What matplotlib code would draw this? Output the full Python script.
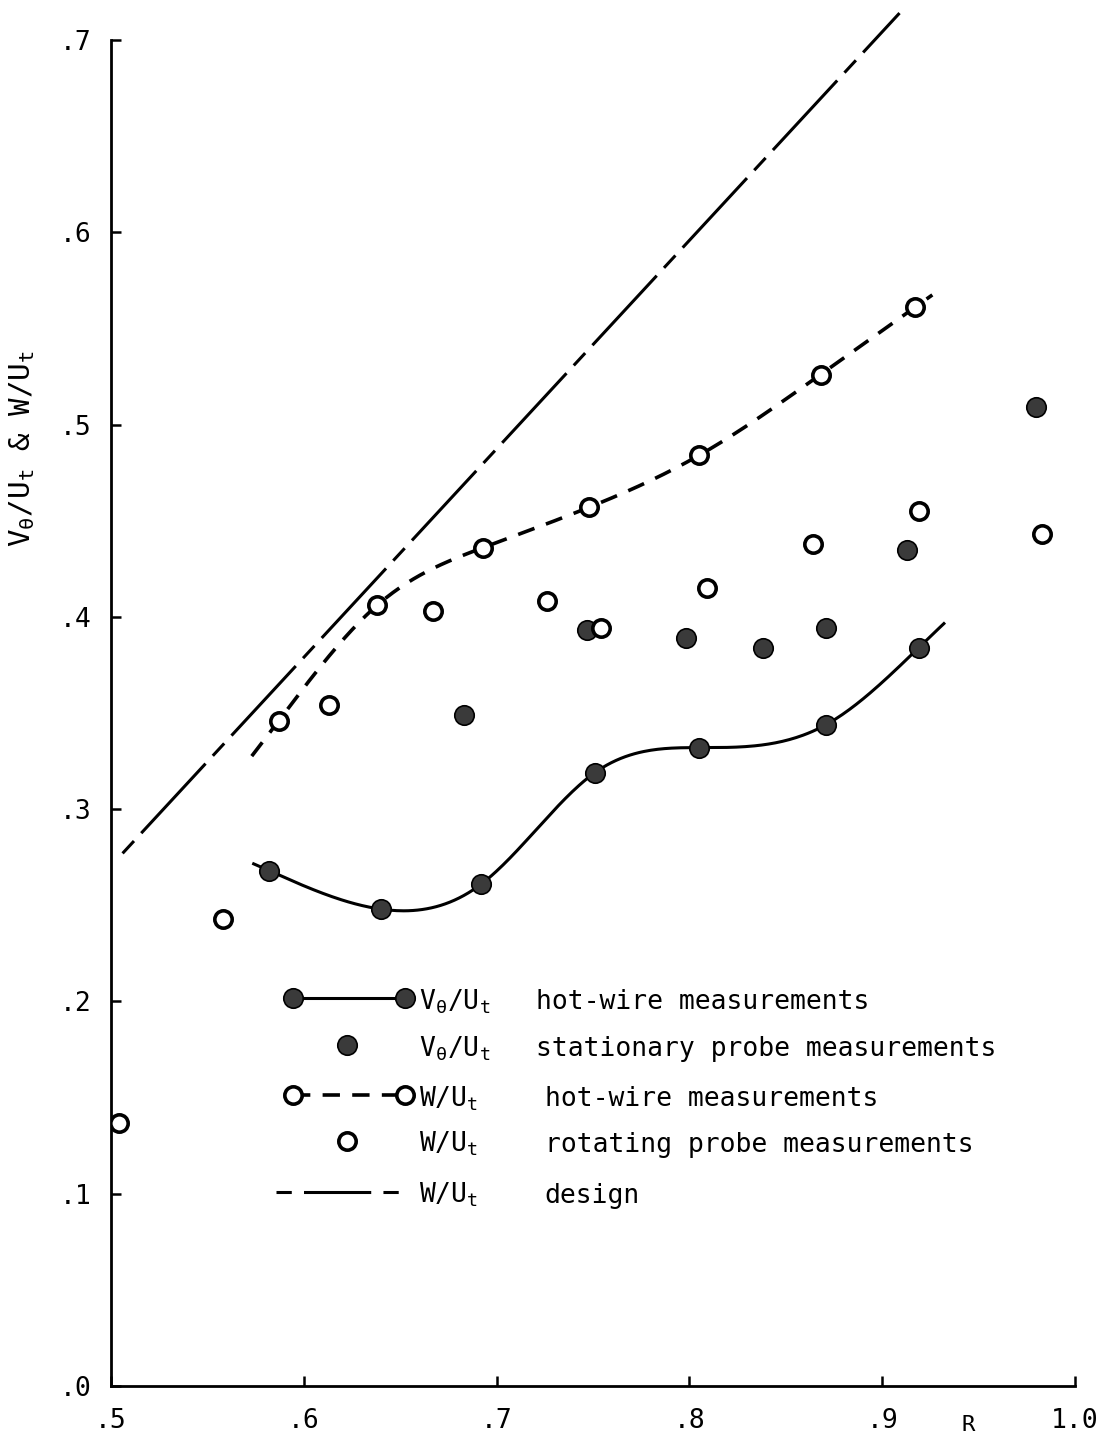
import numpy as np
import matplotlib
matplotlib.use("Agg")
import matplotlib.pyplot as plt

# ---- data -------------------------------------------------------------
# V_theta/U_t, hot-wire measurements (faired solid curve)
r_vt_hw = [0.582, 0.640, 0.692, 0.751, 0.805, 0.871, 0.919]
vt_hw = [0.268, 0.248, 0.261, 0.319, 0.332, 0.344, 0.384]
r_vt_hw_span = [0.574, 0.932]

# V_theta/U_t, stationary probe measurements
r_vt_sp = [0.683, 0.747, 0.798, 0.838, 0.871, 0.913, 0.980]
vt_sp = [0.349, 0.393, 0.389, 0.384, 0.394, 0.435, 0.509]

# W/U_t, hot-wire measurements (faired dashed curve)
r_w_hw = [0.587, 0.638, 0.693, 0.748, 0.805, 0.868, 0.917]
w_hw = [0.346, 0.406, 0.436, 0.457, 0.484, 0.526, 0.561]
r_w_hw_span = [0.573, 0.926]

# W/U_t, rotating probe measurements
r_w_rp = [0.504, 0.558, 0.613, 0.667, 0.726, 0.754, 0.809, 0.864, 0.919, 0.983]
w_rp = [0.137, 0.243, 0.354, 0.403, 0.408, 0.394, 0.415, 0.438, 0.455, 0.443]

# W/U_t, design
r_design = [0.506, 0.909]
w_design = [0.277, 0.714]

x_ticks = [0.5, 0.6, 0.7, 0.8, 0.9, 1.0]
x_ticklabels = [".5", ".6", ".7", ".8", ".9", "1.0"]
y_ticks = [0.0, 0.1, 0.2, 0.3, 0.4, 0.5, 0.6, 0.7]
y_ticklabels = [".0", ".1", ".2", ".3", ".4", ".5", ".6", ".7"]


def natural_spline(x, y, xs):
    """Natural cubic spline through (x, y), evaluated at xs (ends extrapolated)."""
    x = np.asarray(x, float)
    y = np.asarray(y, float)
    xs = np.asarray(xs, float)
    n = len(x)
    h = np.diff(x)
    A = np.zeros((n, n))
    b = np.zeros(n)
    A[0, 0] = A[-1, -1] = 1.0
    for i in range(1, n - 1):
        A[i, i - 1] = h[i - 1]
        A[i, i] = 2 * (h[i - 1] + h[i])
        A[i, i + 1] = h[i]
        b[i] = 6 * ((y[i + 1] - y[i]) / h[i] - (y[i] - y[i - 1]) / h[i - 1])
    M = np.linalg.solve(A, b)
    idx = np.clip(np.searchsorted(x, xs) - 1, 0, n - 2)
    x0, x1 = x[idx], x[idx + 1]
    y0, y1 = y[idx], y[idx + 1]
    m0, m1 = M[idx], M[idx + 1]
    hh = x1 - x0
    t0 = x1 - xs
    t1 = xs - x0
    return (m0 * t0 ** 3 / (6 * hh) + m1 * t1 ** 3 / (6 * hh)
            + (y0 / hh - m0 * hh / 6) * t0 + (y1 / hh - m1 * hh / 6) * t1)


# ---- styling ------------------------------------------------------------
MONO = ["DejaVu Sans Mono"]
plt.rcParams["font.family"] = MONO
plt.rcParams["mathtext.fontset"] = "custom"
plt.rcParams["mathtext.rm"] = "DejaVu Sans Mono"
plt.rcParams["mathtext.it"] = "DejaVu Sans Mono"
plt.rcParams["mathtext.bf"] = "DejaVu Sans Mono"

FILL = "#3a3a3a"

fig = plt.figure(figsize=(11.11, 14.41), dpi=100)
ax = fig.add_axes([111 / 1111, 1 - 1386 / 1441, 964 / 1111, 1346 / 1441])
ax.set_xlim(0.5, 1.0)
ax.set_ylim(0.0, 0.7)

for side in ("top", "right"):
    ax.spines[side].set_visible(False)
for side in ("left", "bottom"):
    ax.spines[side].set_linewidth(2.0)

ax.set_xticks(x_ticks)
ax.set_xticklabels(x_ticklabels)
ax.set_yticks(y_ticks)
ax.set_yticklabels(y_ticklabels)
ax.tick_params(axis="both", direction="in", length=7, width=1.8,
               labelsize=19)
ax.tick_params(axis="x", pad=16)
ax.tick_params(axis="y", pad=14)

# design line
ax.plot(r_design, w_design, color="black", lw=2.2, clip_on=False,
        dashes=(5.5, 3.5, 31, 3.5), solid_capstyle="butt")

# W/U_t hot-wire faired curve + points
xs = np.linspace(r_w_hw_span[0], r_w_hw_span[1], 300)
ax.plot(xs, natural_spline(r_w_hw, w_hw, xs), color="black", lw=2.6,
        dashes=(4.8, 3.4))
ax.plot(r_w_hw, w_hw, "o", ms=12.5, mfc="white", mec="black", mew=2.6,
        zorder=5)

# V_theta/U_t hot-wire faired curve + points
xs = np.linspace(r_vt_hw_span[0], r_vt_hw_span[1], 300)
ax.plot(xs, natural_spline(r_vt_hw, vt_hw, xs), color="black", lw=2.2)
ax.plot(r_vt_hw, vt_hw, "o", ms=14, mfc=FILL, mec="black", mew=1.2,
        zorder=5)

# stationary probe and rotating probe points
ax.plot(r_vt_sp, vt_sp, "o", ms=14, mfc=FILL, mec="black", mew=1.2,
        zorder=5)
ax.plot(r_w_rp, w_rp, "o", ms=12.5, mfc="white", mec="black", mew=2.6,
        zorder=6)

# ---- legend ---------------------------------------------------------------
T = ax.transAxes
xa, xb, xm = 0.189, 0.305, 0.245
x_sym, x_desc_v, x_desc_w = 0.320, 0.441, 0.450
rows = [0.288, 0.253, 0.216, 0.182, 0.144]
fs = 19
base = -0.008

ax.plot([xa, xb], [rows[0]] * 2, color="black", lw=2.2, transform=T)
ax.plot([xa, xb], [rows[0]] * 2, "o", ms=14, mfc=FILL, mec="black",
        mew=1.2, transform=T)
ax.plot([xm], [rows[1]], "o", ms=14, mfc=FILL, mec="black", mew=1.2,
        transform=T)
ax.plot([xa, xb], [rows[2]] * 2, color="black", lw=2.6, dashes=(4.8, 3.4),
        transform=T)
ax.plot([xa, xb], [rows[2]] * 2, "o", ms=12.5, mfc="white", mec="black",
        mew=2.6, transform=T)
ax.plot([xm], [rows[3]], "o", ms=12.5, mfc="white", mec="black", mew=2.6,
        transform=T)
ax.plot([0.171, 0.303], [rows[4]] * 2, color="black", lw=2.2,
        dashes=(5, 4, 22, 4), transform=T)

vt = r"$\mathrm{V}_{\theta}/\mathrm{U}_{t}$"
wt = r"$\mathrm{W}/\mathrm{U}_{t}$"
entries = [(vt, x_desc_v, "hot-wire measurements"),
           (vt, x_desc_v, "stationary probe measurements"),
           (wt, x_desc_w, "hot-wire measurements"),
           (wt, x_desc_w, "rotating probe measurements"),
           (wt, x_desc_w, "design")]
for y, (sym, xd, desc) in zip(rows, entries):
    ax.text(x_sym, y + base, sym, transform=T, fontsize=fs, va="baseline")
    ax.text(xd, y + base, desc, transform=T, fontsize=fs, va="baseline")

# axis titles
fig.text(968 / 1111, 1 - 1425 / 1441, "R", fontsize=16, ha="center",
         va="center")
fig.text(22 / 1111, 1 - 448 / 1441,
         r"$\mathrm{V}_{\theta}/\mathrm{U}_{t}$ & $\mathrm{W}/\mathrm{U}_{t}$",
         fontsize=21, rotation=90, ha="center", va="center")

fig.savefig("out.png", dpi=100, facecolor="white")
